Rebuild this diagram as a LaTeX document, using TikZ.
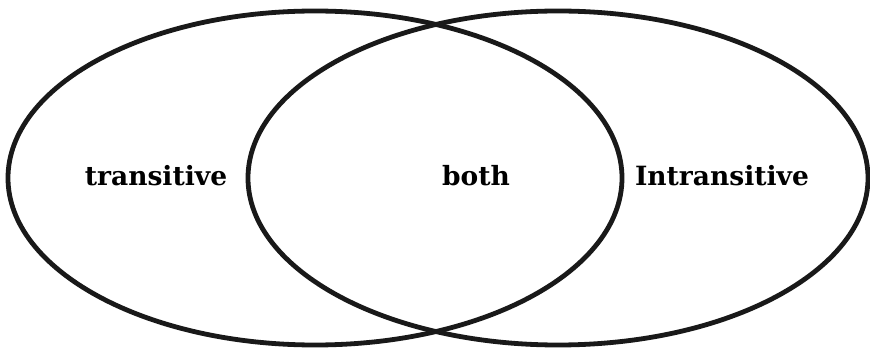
\documentclass[tikz,border=0pt]{standalone}
\usepackage{fontspec}
\setmainfont{DejaVu Serif}
\begin{document}
\begin{tikzpicture}[x=1pt,y=1pt,
  venn/.style={draw=black!90, line width=4.8pt},
  lbl/.style={font=\bfseries\fontsize{26.5}{30}\selectfont, inner sep=0pt}]
\useasboundingbox (0,0) rectangle (870,351);
\draw[venn] (315,173) ellipse [x radius=307, y radius=167];
\draw[venn] (558,173) ellipse [x radius=310, y radius=167];
\node[lbl] (tr) at (156,175) {transitive};
\node[lbl] (bo) at (476,175) {both};
\node[lbl] (in) at (722,175) {Intransitive};
\end{tikzpicture}
\end{document}
